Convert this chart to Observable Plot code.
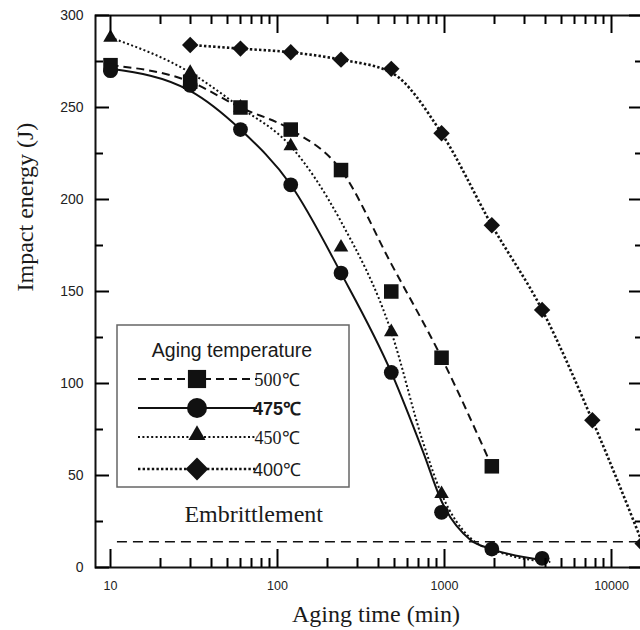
<!DOCTYPE html>
<html><head><meta charset="utf-8">
<script src="https://cdn.jsdelivr.net/npm/d3@7"></script>
<script src="https://cdn.jsdelivr.net/npm/@observablehq/plot@0.6"></script>
<style>
html,body{margin:0;padding:0;background:#fff;}
#chart{width:640px;height:630px;overflow:hidden;}
</style></head><body><div id="chart"></div>
<script>
// ---- measured markers (aging time in min, impact energy in J) ----
const times500 = [10, 30, 60, 120, 240, 480, 960, 1920];
const energy500 = [273, 264, 250, 238, 216, 150, 114, 55];
const times475 = [10, 30, 60, 120, 240, 480, 960, 1920, 3840];
const energy475 = [270, 262, 238, 208, 160, 106, 30, 10, 5];
const times450 = [10, 30, 60, 120, 240, 480, 960];
const energy450 = [288, 269, 250, 229, 174, 128, 40];
const times400 = [30, 60, 120, 240, 480, 960, 1920, 3840, 7680, 15360];
const energy400 = [284, 282, 280, 276, 271, 236, 186, 140, 80, 13];

// ---- fitted trend curves ----
const curveTimes500 = [10, 30, 60, 120, 240, 480, 960, 1920];
const curveEnergy500 = [273, 264, 250, 238, 216, 165, 114, 55];
const curveTimes475 = [10, 30, 60, 120, 240, 480, 750, 960, 1430, 1920, 3840];
const curveEnergy475 = [271, 259, 238, 208, 160, 106, 62, 36, 15, 10, 4];
const curveTimes450 = [10, 30, 60, 120, 240, 480, 750, 960, 1430, 2250, 4300];
const curveEnergy450 = [288, 269, 250, 229, 188, 128, 67, 40, 16, 7.6, 3];
const curveTimes400 = [30, 60, 120, 240, 480, 960, 1920, 3840, 7680, 15360];
const curveEnergy400 = [284, 282, 280, 276, 269, 236, 186, 140, 80, 13];

// ---- series labels ----
const seriesLabels = ["500℃", "475℃", "450℃", "400℃"];
const legendTitle = "Aging temperature";

// ---- embrittlement threshold ----
const embrittlementLevel = 14;
const embrittlementStart = 11;
const embrittlementText = ["Embrittlement"];
const embrittlementTextX = [72];
const embrittlementTextY = [29];

// ---- axes ----
const xDomain = [8.13, 15330];
const yDomain = [0, 300];
const xMajor = [10, 100, 1000, 10000];
const xMinor = [20,30,40,50,60,70,80,90,200,300,400,500,600,700,800,900,2000,3000,4000,5000,6000,7000,8000,9000];
const yMajor = [0, 50, 100, 150, 200, 250, 300];
const yMinor = [25, 75, 125, 175, 225, 275];
const xTitle = "Aging time (min)";
const yTitle = "Impact energy (J)";

// ---- build tables ----
const zipTE = (ts, es) => ts.map((t, i) => ({t, e: es[i]}));
const pts = [zipTE(times500, energy500), zipTE(times475, energy475), zipTE(times450, energy450), zipTE(times400, energy400)];
const curves = [zipTE(curveTimes500, curveEnergy500), zipTE(curveTimes475, curveEnergy475), zipTE(curveTimes450, curveEnergy450), zipTE(curveTimes400, curveEnergy400)];

const INK = "#111";
const SANS = "'Liberation Sans', Arial, sans-serif";
const SERIF = "'Liberation Serif', 'Times New Roman', serif";
const W = 640, H = 630, mL = 95, mR = -2, mT = 15, mB = 63;

const lineStyles = [
  {strokeDasharray: "8,5", strokeWidth: 2},
  {strokeDasharray: null, strokeWidth: 2},
  {strokeDasharray: "2,2.4", strokeWidth: 2},
  {strokeDasharray: "2.4,2.2", strokeWidth: 2.6}
];
const dotStyles = [
  {symbol: "square", r: 8.2},
  {symbol: "circle", r: 7.4},
  {symbol: "triangle", r: 5.4},
  {symbol: "diamond2", r: 7.4}
];

const marks = [
  // tick labels
  Plot.axisY(yMajor, {anchor: "left", tickSize: 0, tickPadding: 12, fontSize: 14, fill: "#222", label: null, fontFamily: SANS}),
  Plot.axisX(xMajor, {anchor: "bottom", tickSize: 0, tickPadding: 14, fontSize: 12.5, fill: "#222", label: null, fontFamily: SANS, tickFormat: d => String(d)}),
  // embrittlement threshold
  Plot.ruleY([embrittlementLevel], {x1: embrittlementStart, x2: xDomain[1], stroke: INK, strokeWidth: 1.6, strokeDasharray: "10,6", clip: true}),
  Plot.text(embrittlementText, {x: (d, i) => embrittlementTextX[i], y: (d, i) => embrittlementTextY[i], text: d => d, fontFamily: SERIF, fontSize: 24, fill: "#1a1a1a", textAnchor: "middle", lineAnchor: "middle"})
];
curves.forEach((c, i) => {
  marks.push(Plot.line(c, {x: "t", y: "e", curve: "monotone-x", stroke: INK, fill: "none", strokeLinecap: "butt", clip: true, ...lineStyles[i]}));
});
pts.forEach((p, i) => {
  marks.push(Plot.dot(p, {x: "t", y: "e", fill: INK, stroke: "none", clip: true, ...dotStyles[i]}));
});
marks.push(Plot.frame({stroke: INK, strokeWidth: 2, fill: "none"}));
marks.push(Plot.text([yTitle], {frameAnchor: "left", rotate: -90, dx: -70, text: d => d, fontFamily: SERIF, fontSize: 24, fill: "#1a1a1a", lineAnchor: "middle"}));
marks.push(Plot.text([xTitle], {frameAnchor: "bottom", dy: 47, dx: 7, text: d => d, fontFamily: SERIF, fontSize: 24, fill: "#1a1a1a", lineAnchor: "middle"}));

const svg = Plot.plot({
  width: W, height: H,
  marginLeft: mL, marginRight: mR, marginTop: mT, marginBottom: mB,
  x: {type: "log", domain: xDomain},
  y: {domain: yDomain},
  style: {background: "white", fontFamily: SANS},
  marks
});

// ---- inward ticks on all four sides, placed with Plot's own scales ----
const xs = svg.scale("x"), ys = svg.scale("y");
const [fx0, fx1] = xs.range, [fy0, fy1] = ys.range; // fy0 = bottom, fy1 = top
const tg = d3.select(svg).append("g").attr("stroke", "#000").attr("stroke-width", 2).attr("fill", "none");
const hTick = (v, len) => {
  const y = Math.round(ys.apply(v)) + 0.5;
  tg.append("line").attr("x1", fx0).attr("x2", fx0 + len).attr("y1", y).attr("y2", y);
  tg.append("line").attr("x1", fx1 - len + 1).attr("x2", fx1).attr("y1", y).attr("y2", y);
};
const vTick = (v, len) => {
  const x = Math.round(xs.apply(v)) + 0.5;
  tg.append("line").attr("x1", x).attr("x2", x).attr("y1", fy0).attr("y2", fy0 - len);
  tg.append("line").attr("x1", x).attr("x2", x).attr("y1", fy1).attr("y2", fy1 + len);
};
yMajor.forEach(v => hTick(v, 14));
yMinor.forEach(v => hTick(v, 8));
xMajor.forEach(v => vTick(v, 18));
xMinor.forEach(v => vTick(v, 9));

// ---- legend box (inside the plot area) ----
const lg = d3.select(svg).append("g");
const box = {x: 117, y: 325, w: 232, h: 162};
lg.append("rect").attr("x", box.x).attr("y", box.y).attr("width", box.w).attr("height", box.h)
  .attr("fill", "white").attr("stroke", "#666").attr("stroke-width", 1.5);
lg.append("text").attr("x", box.x + 115).attr("y", 357).attr("text-anchor", "middle")
  .attr("font-family", SANS).attr("font-size", 19.5).attr("fill", "#1a1a1a").text(legendTitle);
const rowY = [379, 408, 437, 469];
const legendSymbols = [d3.symbolSquare, d3.symbolCircle, d3.symbolTriangle, d3.symbolDiamond2];
const legendSizes = [330, 314, 125, 330];
const labelFonts = [
  {family: SERIF, weight: "normal"},
  {family: SANS, weight: "bold"},
  {family: SERIF, weight: "normal"},
  {family: SANS, weight: "normal"}
];
seriesLabels.forEach((lab, i) => {
  const y = rowY[i];
  lg.append("line").attr("x1", 138).attr("x2", 257).attr("y1", y).attr("y2", y)
    .attr("stroke", INK).attr("stroke-width", lineStyles[i].strokeWidth)
    .attr("stroke-dasharray", lineStyles[i].strokeDasharray);
  lg.append("path").attr("d", d3.symbol(legendSymbols[i], legendSizes[i])())
    .attr("transform", `translate(197,${i === 2 ? y - 2 : y})`).attr("fill", INK);
  lg.append("text").attr("x", 277).attr("y", y + 6.5)
    .attr("font-family", labelFonts[i].family).attr("font-weight", labelFonts[i].weight)
    .attr("font-size", 18).attr("fill", "#1a1a1a").text(lab);
});

document.getElementById("chart").appendChild(svg);
</script>
</body></html>
